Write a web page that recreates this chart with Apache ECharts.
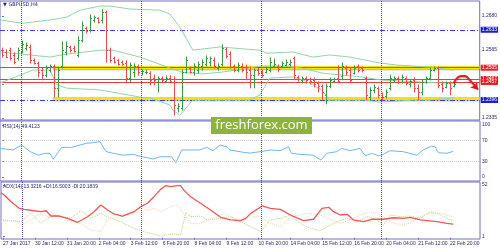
<!DOCTYPE html>
<html><head><meta charset="utf-8">
<script src="https://cdn.jsdelivr.net/npm/echarts@6/dist/echarts.min.js"></script>
<style>html,body{margin:0;padding:0;background:#fff}#c{width:500px;height:250px}</style>
</head><body><div id="c"></div>
<script>
// ---- data (H4 bars, index 0 = 27 Jan 2017) ----
const tickLabels = ['27 Jan 2017','30 Jan 12:00','31 Jan 20:00','2 Feb 04:00','3 Feb 12:00','6 Feb 20:00','8 Feb 04:00','9 Feb 12:00','10 Feb 20:00','14 Feb 04:00','15 Feb 12:00','16 Feb 20:00','20 Feb 04:00','21 Feb 12:00','22 Feb 20:00'];
const opens = [1.2565,1.2558,1.2565,1.2548,1.2538,1.2558,1.2571,1.2575,1.2531,1.2521,
1.2497,1.2480,1.2497,1.2511,1.2437,1.2511,1.2558,1.2575,1.2571,1.2548,
1.2598,1.2639,1.2632,1.2666,1.2673,1.2666,1.2693,1.2565,1.2538,1.2531,
1.2524,1.2521,1.2470,1.2491,1.2511,1.2487,1.2491,1.2487,1.2470,1.2457,
1.2470,1.2460,1.2470,1.2457,1.2369,1.2369,1.2491,1.2504,1.2491,1.2497,
1.2511,1.2518,1.2524,1.2531,1.2504,1.2518,1.2568,1.2551,1.2511,1.2497,
1.2511,1.2507,1.2497,1.2480,1.2497,1.2491,1.2491,1.2497,1.2511,1.2511,
1.2511,1.2514,1.2518,1.2538,1.2474,1.2464,1.2470,1.2467,1.2464,1.2453,
1.2443,1.2413,1.2443,1.2460,1.2470,1.2477,1.2504,1.2497,1.2487,1.2511,
1.2504,1.2470,1.2406,1.2430,1.2437,1.2413,1.2410,1.2437,1.2464,1.2470,
1.2457,1.2470,1.2450,1.2464,1.2437,1.2423,1.2457,1.2470,1.2497,1.2504,
1.2450,1.2440,1.2453,1.2443];
const closes = [1.2548,1.2541,1.2538,1.2524,1.2565,1.2585,1.2582,1.2531,1.2521,1.2491,
1.2480,1.2504,1.2511,1.2437,1.2497,1.2565,1.2578,1.2565,1.2561,1.2598,
1.2649,1.2629,1.2673,1.2676,1.2659,1.2693,1.2565,1.2531,1.2524,1.2518,
1.2518,1.2470,1.2514,1.2511,1.2491,1.2494,1.2491,1.2464,1.2464,1.2470,
1.2464,1.2470,1.2460,1.2379,1.2376,1.2491,1.2531,1.2491,1.2511,1.2518,
1.2524,1.2538,1.2538,1.2511,1.2511,1.2571,1.2545,1.2507,1.2497,1.2514,
1.2497,1.2491,1.2480,1.2497,1.2487,1.2480,1.2501,1.2524,1.2518,1.2501,
1.2521,1.2524,1.2524,1.2480,1.2467,1.2470,1.2464,1.2460,1.2450,1.2443,
1.2423,1.2443,1.2464,1.2467,1.2460,1.2511,1.2491,1.2464,1.2504,1.2497,
1.2497,1.2413,1.2430,1.2440,1.2413,1.2406,1.2423,1.2470,1.2470,1.2457,
1.2474,1.2453,1.2460,1.2437,1.2423,1.2457,1.2470,1.2497,1.2504,1.2447,
1.2437,1.2453,1.2437,1.2450];
const lows = [1.2541,1.2538,1.2531,1.2518,1.2531,1.2555,1.2565,1.2521,1.2518,1.2474,
1.2464,1.2474,1.2491,1.2406,1.2406,1.2504,1.2548,1.2558,1.2558,1.2541,
1.2592,1.2622,1.2625,1.2659,1.2656,1.2656,1.2524,1.2524,1.2521,1.2514,
1.2514,1.2457,1.2457,1.2474,1.2480,1.2480,1.2484,1.2447,1.2447,1.2423,
1.2457,1.2457,1.2457,1.2346,1.2356,1.2362,1.2487,1.2487,1.2480,1.2487,
1.2497,1.2511,1.2511,1.2504,1.2497,1.2511,1.2538,1.2504,1.2491,1.2491,
1.2491,1.2464,1.2437,1.2437,1.2480,1.2474,1.2487,1.2491,1.2507,1.2491,
1.2507,1.2511,1.2511,1.2464,1.2460,1.2453,1.2453,1.2450,1.2440,1.2423,
1.2396,1.2383,1.2437,1.2457,1.2457,1.2464,1.2480,1.2457,1.2484,1.2491,
1.2491,1.2396,1.2396,1.2420,1.2403,1.2396,1.2403,1.2430,1.2457,1.2453,
1.2453,1.2447,1.2440,1.2423,1.2396,1.2413,1.2453,1.2464,1.2494,1.2437,
1.2423,1.2437,1.2413,1.2440];
const highs = [1.2571,1.2565,1.2571,1.2555,1.2571,1.2595,1.2588,1.2582,1.2534,1.2524,
1.2504,1.2511,1.2514,1.2514,1.2504,1.2592,1.2592,1.2578,1.2578,1.2609,
1.2659,1.2642,1.2683,1.2679,1.2673,1.2700,1.2696,1.2571,1.2541,1.2534,
1.2528,1.2528,1.2521,1.2518,1.2514,1.2497,1.2497,1.2491,1.2480,1.2474,
1.2474,1.2477,1.2477,1.2474,1.2383,1.2497,1.2541,1.2507,1.2518,1.2524,
1.2531,1.2545,1.2541,1.2538,1.2518,1.2582,1.2571,1.2558,1.2514,1.2521,
1.2518,1.2514,1.2507,1.2501,1.2504,1.2497,1.2507,1.2538,1.2534,1.2514,
1.2524,1.2531,1.2531,1.2541,1.2477,1.2474,1.2474,1.2470,1.2470,1.2457,
1.2447,1.2450,1.2470,1.2470,1.2511,1.2521,1.2511,1.2504,1.2511,1.2514,
1.2507,1.2474,1.2437,1.2447,1.2440,1.2420,1.2430,1.2480,1.2474,1.2474,
1.2480,1.2474,1.2464,1.2470,1.2447,1.2464,1.2474,1.2504,1.2507,1.2507,
1.2457,1.2457,1.2457,1.2457];
// Bollinger bands [bar index, price]
const bbUpper = [[-0.5,1.2666],[5.25,1.2655],[12,1.2666],[16.25,1.2676],[19.5,1.2699],[24.5,1.2713],[27,1.2713],[32,1.2703],[39.5,1.2699],[42,1.2686],[44.5,1.2642],[47.75,1.2564],[54.5,1.2575],[64.5,1.2564],[66.25,1.2554],[72.75,1.2558],[77.75,1.2541],[82,1.2548],[87,1.2541],[94.5,1.2521],[98.75,1.2514],[107,1.2507],[113,1.2497]];
const bbMiddle = [[-0.5,1.2558],[7,1.2548],[12,1.2541],[16.25,1.2551],[24.5,1.2564],[27.75,1.2564],[34.5,1.2541],[42,1.2504],[45,1.2490],[50,1.2484],[55,1.2490],[60,1.2500],[65,1.2511],[70,1.2511],[75,1.2504],[80,1.2487],[85,1.2480],[90,1.2474],[95,1.2463],[100,1.2460],[105,1.2457],[110,1.2453],[113,1.2453]];
const bbLower = [[-0.5,1.2453],[4.5,1.2480],[7.75,1.2497],[12,1.2497],[13.75,1.2447],[16.25,1.2436],[24.5,1.2430],[34.5,1.2406],[37,1.2403],[42,1.2379],[42.75,1.2362],[44.5,1.2345],[47.75,1.2396],[56,1.2396],[62,1.2396],[64.5,1.2413],[67,1.2470],[72.75,1.2474],[75.5,1.2463],[80,1.2430],[82,1.2396],[90.75,1.2396],[94.5,1.2389],[103,1.2396],[107,1.2396],[113,1.2403]];
const rsiLine = [[-0.5,55],[2.8,52],[4.9,61.5],[7,49],[9.1,42],[10.8,45.5],[12,45.5],[12.8,34],[14.9,57],[17.4,57],[19.5,61.5],[21.2,65],[22.8,66],[24.5,68],[24.9,70],[26,49],[27.8,45.5],[30.3,42],[32.8,43.6],[34.5,40],[37.8,34.6],[39.5,39],[42.4,39],[43.5,27.5],[44.9,52],[49.5,52],[51.2,57],[52.8,50.6],[54.5,61.5],[56.2,58],[57,52],[60.3,47.5],[62,46],[64.5,48.7],[67,52],[69.5,50.6],[71.6,58],[72.4,45.5],[74.5,43.6],[77.8,42],[79.7,32.7],[81.2,45.5],[83.7,48.7],[84.9,55],[87,50.6],[89.5,55],[90.8,41],[92.4,45.5],[94.1,41],[94.9,42],[97,50.6],[100.3,48.7],[103.7,42],[105.3,52],[107.4,59.6],[108.3,58],[109.1,46.7],[111.2,45.5],[112.8,49.4]];
const adxLine = [[-0.5,44.4],[0.3,42.1],[2,35.5],[4.1,29],[5.3,28],[7.8,26.6],[9.5,25.7],[10.8,26.6],[12,21.4],[14.1,21.4],[16.2,19.1],[18.7,15.2],[21.2,20.7],[22.8,25.7],[24.5,32.3],[26.2,27.3],[27.8,23.4],[29.9,21.4],[32.8,25.7],[34.5,30.6],[36.2,34],[37.8,40.5],[39.5,47.7],[40.8,51.5],[42,50.4],[43.7,51.5],[44.5,51.5],[45.3,47],[47,40.5],[49.5,34],[52,27.3],[54.5,20.1],[57,17.5],[59.5,16.8],[60.8,19.1],[62,23.8],[64.9,31.3],[67,29],[69.5,28],[72,22.4],[75.3,16.8],[77.8,18.2],[79.9,29],[81.6,30],[82.8,25.7],[84.5,22.4],[86.2,23.1],[87.8,17.5],[90.3,15.8],[92.4,18.2],[95.3,18.2],[97.8,19.7],[100.3,19.1],[102,20.1],[104.5,17.5],[106.2,16.8],[108.7,15.8],[111.2,14.2],[112.8,13.3]];
const plusDI = [[-0.5,17.5],[2,16.8],[4.5,15.8],[7,24.1],[9.5,14.2],[12,21.4],[14.5,20.8],[17,19.1],[19.5,26.7],[22,19.1],[24.5,24.1],[26.2,20.8],[29.5,15.8],[32.8,9.2],[36.2,5.0],[39.5,1.7],[42.8,3.7],[44.5,2.7],[45.8,24.7],[47,20.8],[49.5,21.4],[51.2,17.5],[54.5,19.1],[57,20.8],[59.5,15.8],[62,11],[64.5,6.0],[67,17.5],[69.5,19.1],[72,22.4],[74.5,14.2],[77,9.2],[79.5,7.0],[81.2,10.9],[83.7,15.8],[86.2,19.1],[88.7,15.8],[91.2,20.8],[93.7,17.5],[95.3,12.5],[97,22.4],[99.5,20.8],[102,21.4],[104.5,19.1],[107,25.7],[108.7,24.1],[110.3,20.8],[112,17.5],[112.8,16.5]];
const minusDI = [[-0.5,15.8],[2.8,17.5],[4.5,12.5],[7,17.5],[9.5,24.1],[12,19.1],[13.7,24.1],[16.2,17.5],[19.5,14.2],[22,7.6],[24.5,6.0],[26.2,17.5],[29.5,20.8],[32.8,24.1],[36.2,27.3],[37.8,29],[39.5,25.7],[42,30.6],[43.7,32.3],[45.8,20.8],[47,14.2],[49.5,14.2],[52.8,19.1],[55.3,24.1],[57.8,19.1],[60.3,17.5],[62,21.5],[64.5,20.8],[67,14.2],[69.5,10.9],[72,20.8],[74.5,22.4],[77,24.1],[79.5,22.4],[82,18.1],[84.5,14.2],[87,17.5],[89.5,22.4],[91.2,24.7],[93.7,24.1],[95.3,20.8],[97,15.8],[99.5,12.5],[102,14.2],[104.5,20.8],[107,24.1],[109.5,24.1],[112,21.4],[112.8,20.2]];
const arrowPath = [[113,1.2453],[114.9,1.2477],[115.75,1.2477],[117,1.2464],[118.5,1.2440]];
const arrowTip = [[118.5,1.2440],[119.1,1.2431]];
const priceTicks = [1.2335,1.2450,1.2565,1.2680];
const rsiTicks = [0,30,70,100];
const adxTicks = [1,52];
const weekStarts = [4.75,34.75,64.75,94.75];
const blueLevels = [1.2633,1.2396];
const redLevels = [1.2505,1.2467,1.2457];
const yellowLevels = [1.2506,1.2402];
const yellowStart = 12.75;

// ---- chart ----
const FONT = '"Liberation Sans", Arial, sans-serif';
const TXT = '#262673';
const FRAME = '#7070c0';
const barData = opens.map((o,i)=>[i,o,closes[i],lows[i],highs[i]]);
const dateTicks = tickLabels.map((_,k)=>k*8);

const xAx = (g, showLabels) => ({
  type:'value', gridIndex:g, min:-0.5, max:119.5,
  axisLine:{show:false}, splitLine:{show:false},
  axisTick: showLabels ? {show:true, customValues:dateTicks, length:2, lineStyle:{color:FRAME}} : {show:false},
  axisLabel: showLabels ? {show:true, customValues:dateTicks, formatter:v=>tickLabels[Math.round(v/8)]||'', align:'left', margin:2, fontSize:5, color:TXT, fontFamily:FONT} : {show:false}
});
const yAx = (g, min, max, ticks, fmt) => ({
  type:'value', gridIndex:g, position:'right', min, max,
  axisLine:{show:false}, splitLine:{show:false},
  axisTick:{show:true, customValues:ticks, length:2, lineStyle:{color:FRAME}},
  axisLabel:{show:true, customValues:ticks, formatter:fmt, margin:2, fontSize:5, color:TXT, fontFamily:FONT}
});
const sepLine = {silent:true, symbol:'none', precision:5, label:{show:false}, lineStyle:{color:'#4b4ba0', type:'dotted', width:1},
  data: weekStarts.map(v=>({xAxis:v}))};
const boxLabel = (bg) => ({show:true, position:'end', distance:1, formatter:p=>Number(p.value).toFixed(4), backgroundColor:bg, color:'#fff', fontSize:5, fontFamily:FONT, padding:[1,1,0,1], lineHeight:5});

const levelData = [];
yellowLevels.forEach(v=>levelData.push([{coord:[yellowStart,v], lineStyle:{color:'#f2e400', width:3, type:'solid', shadowColor:'rgba(0,0,0,0.35)', shadowBlur:2, shadowOffsetY:1}, label:{show:false}},{coord:[119.5,v]}]));
blueLevels.forEach(v=>levelData.push({yAxis:v, lineStyle:{color:'#3a3aff', width:1, type:[5,2,1,2]}, label:boxLabel('#1c1cd6')}));
redLevels.forEach(v=>levelData.push({yAxis:v, lineStyle:{color:'#f03c3c', width:1, type:'solid'}, label:boxLabel('#f21c1c')}));

const bbStyle = {type:'line', xAxisIndex:0, yAxisIndex:0, showSymbol:false, silent:true, lineStyle:{color:'#8fd6a6', width:1}, z:3};

const option = {
  animation:false,
  backgroundColor:'#ffffff',
  grid:[
    {left:0, top:1, width:480, height:119, show:true, borderColor:FRAME, borderWidth:1, backgroundColor:'transparent'},
    {left:0, top:121, width:480, height:60, show:true, borderColor:FRAME, borderWidth:1, backgroundColor:'transparent'},
    {left:0, top:182, width:480, height:57, show:true, borderColor:FRAME, borderWidth:1, backgroundColor:'transparent'}
  ],
  xAxis:[xAx(0,false), xAx(1,false), xAx(2,true)],
  yAxis:[
    yAx(0, 1.23286, 1.27300, priceTicks, v=>v.toFixed(4)),
    yAx(1, -7.7, 107.7, rsiTicks, v=>String(Math.round(v))),
    yAx(2, -1.3, 55, adxTicks, v=>String(Math.round(v)))
  ],
  series:[
    Object.assign({}, bbStyle, {name:'bbU', data:bbUpper, markLine:sepLine}),
    Object.assign({}, bbStyle, {name:'bbM', data:bbMiddle, markLine:{silent:true, symbol:'none', precision:5, z:2, data:levelData}}),
    Object.assign({}, bbStyle, {name:'bbL', data:bbLower}),
    {type:'custom', name:'bars', xAxisIndex:0, yAxisIndex:0, z:5, silent:true,
      data:barData, encode:{x:0, y:[1,2,3,4]},
      renderItem:(params, api)=>{
        const i=api.value(0), o=api.value(1), c=api.value(2), l=api.value(3), h=api.value(4);
        const pO=api.coord([i,o]), pC=api.coord([i,c]), pL=api.coord([i,l]), pH=api.coord([i,h]);
        const x=Math.round(pO[0])+0.5;
        const col = c>=o ? '#3c9a45' : '#f04b4b';
        const st={stroke:col, lineWidth:1};
        return {type:'group', children:[
          {type:'line', shape:{x1:x,y1:pH[1]-0.5,x2:x,y2:pL[1]+0.5}, style:st},
          {type:'line', shape:{x1:x-1.5,y1:Math.round(pO[1])+0.5,x2:x,y2:Math.round(pO[1])+0.5}, style:st},
          {type:'line', shape:{x1:x,y1:Math.round(pC[1])+0.5,x2:x+1.5,y2:Math.round(pC[1])+0.5}, style:st}
        ]};
      }},
    {type:'line', name:'arrow', xAxisIndex:0, yAxisIndex:0, data:arrowPath, smooth:0.5, showSymbol:false, silent:true, z:6,
      lineStyle:{color:'#e81e1e', width:2, shadowColor:'rgba(0,0,0,0.35)', shadowBlur:2, shadowOffsetY:1},
      markLine:{silent:true, symbol:['none','arrow'], symbolSize:7, precision:5, label:{show:false}, lineStyle:{color:'#e81e1e', width:2, type:'solid'},
        data:[[{coord:arrowTip[0]},{coord:arrowTip[1]}]]}},
    {type:'line', name:'rsi', xAxisIndex:1, yAxisIndex:1, data:rsiLine, showSymbol:false, silent:true,
      lineStyle:{color:'#6fb6f2', width:1},
      markLine:{silent:true, symbol:'none', precision:5, label:{show:false}, data:[
        {yAxis:70, lineStyle:{color:'#c8c8c8', type:'dotted', width:1}},
        {yAxis:30, lineStyle:{color:'#c8c8c8', type:'dotted', width:1}},
        ...weekStarts.map(v=>({xAxis:v, lineStyle:{color:'#4b4ba0', type:'dotted', width:1}}))
      ]}},
    {type:'line', name:'+DI', xAxisIndex:2, yAxisIndex:2, data:plusDI, showSymbol:false, silent:true,
      lineStyle:{color:'#b4d66a', width:1, type:'dotted'}},
    {type:'line', name:'-DI', xAxisIndex:2, yAxisIndex:2, data:minusDI, showSymbol:false, silent:true,
      lineStyle:{color:'#f5cfae', width:1, type:'dotted'}},
    {type:'line', name:'adx', xAxisIndex:2, yAxisIndex:2, data:adxLine, showSymbol:false, silent:true,
      lineStyle:{color:'#f25656', width:1.3}, markLine:sepLine}
  ],
  graphic:[
    {type:'text', left:3, top:2, z:100, style:{text:'▼ GBPUSD,H4', font:'5px "DejaVu Sans", sans-serif', fill:TXT}},
    {type:'text', left:3, top:124, z:100, style:{text:'RSI(14) 49.4123', font:'5px '+FONT, fill:TXT}},
    {type:'text', left:3, top:184, z:100, style:{text:'ADX(14) 13.3216 +DI:16.5003 -DI:20.1839', font:'5px '+FONT, fill:TXT}},
    {type:'rect', z:100, shape:{x:211, y:117, width:101, height:17}, style:{fill:'#8cb43c'}},
    {type:'text', z:101, x:261.5, y:125.5, style:{text:'freshforex.com', fill:'#ffffff', font:'13px "Open Sans", sans-serif', align:'center', verticalAlign:'middle'}}
  ]
};
const chart = echarts.init(document.getElementById('c'), null, {renderer:'canvas'});
chart.setOption(option);
</script></body></html>
